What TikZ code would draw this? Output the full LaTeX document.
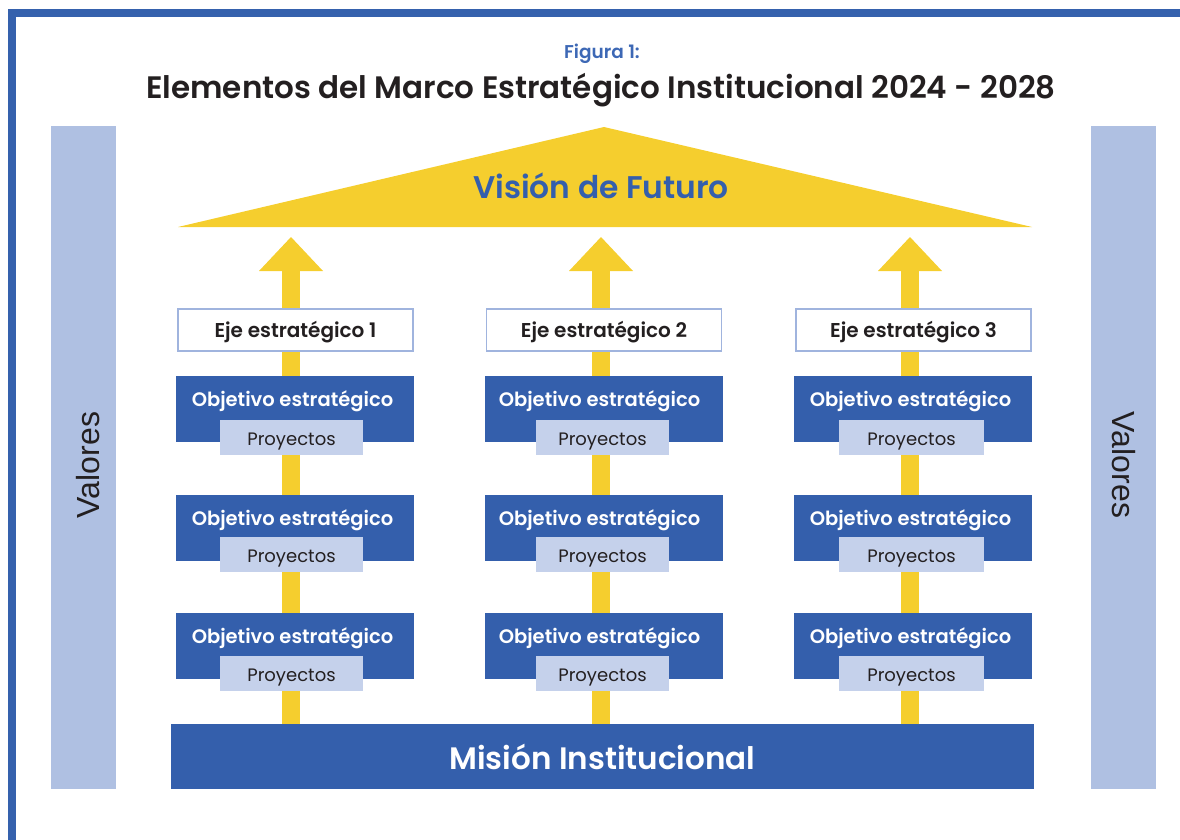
\documentclass[tikz,border=0pt]{standalone}
\usepackage{fontspec}
\setmainfont{Poppins}
\newfontfamily\semi{Poppins SemiBold}
\newfontfamily\arial{Liberation Sans}
\usetikzlibrary{arrows.meta,backgrounds,calc}
\definecolor{dblue}{HTML}{345FAC}
\definecolor{valbar}{HTML}{AFC0E2}
\definecolor{proyc}{HTML}{C5D1EB}
\definecolor{yel}{HTML}{F5CE2E}
\definecolor{ejeb}{HTML}{A0B4DE}
\definecolor{tdark}{HTML}{231F20}
\definecolor{figblue}{HTML}{3D68B5}
\definecolor{framec}{HTML}{3561AD}
\begin{document}
\begin{tikzpicture}[x=1pt,y=-1pt,
  objbox/.style={fill=dblue, minimum width=238pt, minimum height=66pt, inner sep=0pt, outer sep=0pt},
  objtxt/.style={text=white, font=\semi\fontsize{19.5}{22}\selectfont, inner sep=0pt, anchor=base},
  proybox/.style={fill=proyc, minimum width=144pt, minimum height=35pt, inner sep=0pt, outer sep=0pt, text=tdark, font=\fontsize{18}{20}\selectfont, text height=15pt, text depth=0pt},
  ejebox/.style={fill=white, draw=ejeb, line width=1.6pt, minimum width=235pt, minimum height=42pt, inner sep=0pt, text=tdark, font=\semi\fontsize{20}{22}\selectfont, text height=14pt, text depth=0pt},
  valbox/.style={fill=valbar, minimum width=65pt, minimum height=663pt, inner sep=0pt},
  valtxt/.style={text=tdark, font=\arial\fontsize{32}{36}\selectfont, inner sep=0pt},
  bigarrow/.style={draw=yel, line width=18pt, -{Triangle[width=64pt,length=34pt,line width=0pt]}}
]
\useasboundingbox (0,0) rectangle (1180,840);
% frame
\draw[framec, line width=8pt] (12,845) -- (12,13) -- (1185,13);
% titles
\node[text=figblue, font=\semi\fontsize{18.5}{21}\selectfont, anchor=base, inner sep=0pt] (fig) at (602,59) {Figura 1:};
\node[text=tdark, font=\semi\fontsize{31}{34}\selectfont, anchor=base, inner sep=0pt] (title) at (601,99) {Elementos del Marco Estratégico Institucional 2024 - 2028};
% valores bars
\node[valbox] (vl) at (83.5,457.5) {};
\node[valbox] (vr) at (1123.5,457.5) {};
\node[valtxt, rotate=90] (vlt) at (88.5,465) {Valores};
\node[valtxt, rotate=-90] (vrt) at (1123.5,465) {Valores};
% vision roof
\fill[yel] (178,227) -- (604,127) -- (1032,227) -- cycle;
\node[text=dblue, font=\semi\fontsize{31.3}{36}\selectfont, anchor=base, inner sep=0pt] (vision) at (601,198) {Visión de Futuro};
\coordinate (t1) at (291,237);
\coordinate (t2) at (601,237);
\coordinate (t3) at (910,237);
% mision
\node[fill=dblue, minimum width=863pt, minimum height=65pt, inner sep=0pt, outer sep=0pt, text=white, font=\semi\fontsize{31}{36}\selectfont, text height=25pt, text depth=0pt] (mision) at (602.5,756.5) {Misión Institucional};
% ejes
\node[ejebox] (e1) at (295.5,330) {Eje estratégico 1};
\node[ejebox] (e2) at (604,330) {Eje estratégico 2};
\node[ejebox] (e3) at (913.5,330) {Eje estratégico 3};
% objectives
\foreach \c/\ox/\tx/\px/\pw in {1/295/292.5/291.5/143, 2/603.5/599.5/602.5/133, 3/912.5/910.5/911.5/145}{
  \foreach \r/\oy/\py in {1/409/437.5, 2/528/554.5, 3/646/673.5}{
    \node[objbox] (o\c\r) at (\ox,\oy) {};
    \node[objtxt] (ot\c\r) at ($(o\c\r.north -| \tx,0)+(0,30.7)$) {Objetivo estratégico};
    \node[proybox, minimum width=\pw pt] (p\c\r) at (\px,\py) {Proyectos};
  }
}
% arrows
\begin{scope}[on background layer]
\foreach \i in {1,2,3}{
  \draw[bigarrow] (mision.north -| t\i) -- (t\i);
}
\end{scope}
\end{tikzpicture}
\end{document}
